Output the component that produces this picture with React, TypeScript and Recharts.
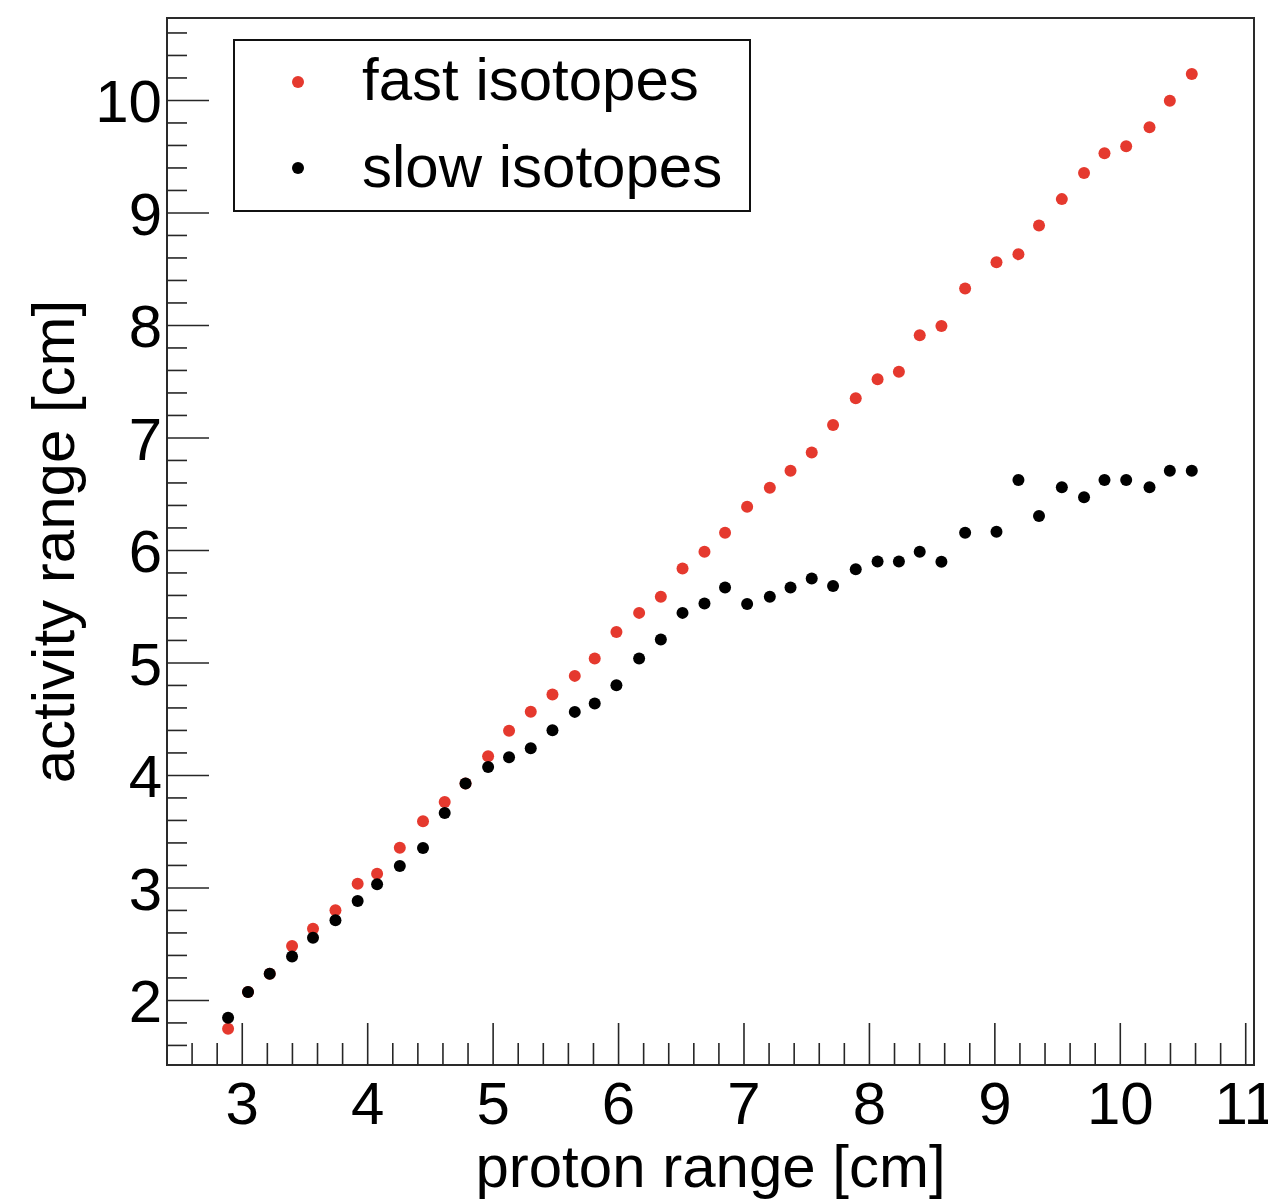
import React from "react";
import { ScatterChart, Scatter, XAxis, YAxis, ReferenceArea, Legend } from "recharts";

// proton range [cm] of each measurement (shared by both series)
const protonRange = [
  2.887, 3.046, 3.219, 3.397, 3.564, 3.743, 3.92, 4.075, 4.256, 4.441, 4.614, 4.78,
  4.96, 5.127, 5.3, 5.473, 5.651, 5.81, 5.983, 6.164, 6.337, 6.51, 6.685, 6.849,
  7.025, 7.206, 7.371, 7.54, 7.71, 7.891, 8.065, 8.235, 8.401, 8.574, 8.763, 9.013,
  9.188, 9.352, 9.534, 9.711, 9.874, 10.047, 10.233, 10.395, 10.57,
];

// activity range [cm], fast isotopes (red)
const fastIsotopes = [
  1.748, 2.074, 2.238, 2.483, 2.638, 2.801, 3.038, 3.127, 3.358, 3.592, 3.764, 3.928,
  4.171, 4.397, 4.566, 4.72, 4.885, 5.04, 5.276, 5.445, 5.588, 5.84, 5.988, 6.157,
  6.388, 6.557, 6.709, 6.871, 7.115, 7.353, 7.522, 7.589, 7.913, 7.996, 8.329, 8.561,
  8.634, 8.888, 9.123, 9.355, 9.53, 9.594, 9.762, 9.997, 10.235,
];

// activity range [cm], slow isotopes (black)
const slowIsotopes = [
  1.846, 2.074, 2.238, 2.391, 2.558, 2.712, 2.883, 3.032, 3.195, 3.355, 3.666, 3.928,
  4.075, 4.162, 4.242, 4.402, 4.565, 4.639, 4.802, 5.04, 5.209, 5.445, 5.529, 5.671,
  5.523, 5.588, 5.671, 5.751, 5.683, 5.832, 5.901, 5.901, 5.988, 5.899, 6.157, 6.166,
  6.626, 6.306, 6.561, 6.472, 6.626, 6.626, 6.561, 6.709, 6.709,
];

const seriesNames = ["fast isotopes", "slow isotopes"];
const seriesColors = ["#e5392e", "#000000"];

const xDomain = [2.4, 11.066];
const yDomain = [1.426, 10.733];

// tick positions (major = integer, labelled; others minor)
const xTicks = [
  2.6, 2.8, 3, 3.2, 3.4, 3.6, 3.8, 4, 4.2, 4.4, 4.6, 4.8, 5, 5.2, 5.4, 5.6, 5.8, 6,
  6.2, 6.4, 6.6, 6.8, 7, 7.2, 7.4, 7.6, 7.8, 8, 8.2, 8.4, 8.6, 8.8, 9, 9.2, 9.4, 9.6,
  9.8, 10, 10.2, 10.4, 10.6, 10.8, 11,
];
const xTickLabels = ["3", "4", "5", "6", "7", "8", "9", "10", "11"];
const yTicks = [
  1.6, 1.8, 2, 2.2, 2.4, 2.6, 2.8, 3, 3.2, 3.4, 3.6, 3.8, 4, 4.2, 4.4, 4.6, 4.8, 5,
  5.2, 5.4, 5.6, 5.8, 6, 6.2, 6.4, 6.6, 6.8, 7, 7.2, 7.4, 7.6, 7.8, 8, 8.2, 8.4, 8.6,
  8.8, 9, 9.2, 9.4, 9.6, 9.8, 10, 10.2, 10.4, 10.6,
];
const yTickLabels = ["2", "3", "4", "5", "6", "7", "8", "9", "10"];

const xTitle = "proton range [cm]";
const yTitle = "activity range [cm]";

const FONT = "'Liberation Sans', Arial, Helvetica, sans-serif";
const FS = 60;
const TICK_COLOR = "#262626";

const fastData = protonRange.map((x, i) => ({ x, y: fastIsotopes[i] }));
const slowData = protonRange.map((x, i) => ({ x, y: slowIsotopes[i] }));

const isMajor = (v: number) => Math.abs(v - Math.round(v)) < 1e-6;

const labelFor = (v: number, labels: string[]) => {
  const s = String(Math.round(v));
  return labels.includes(s) ? s : "";
};

const XTick = (props: any) => {
  const { x, y, payload } = props;
  const v = payload.value as number;
  const major = isMajor(v);
  return (
    <g>
      <line x1={x} x2={x} y1={y} y2={y - (major ? 42 : 22)} stroke={TICK_COLOR} strokeWidth={1.6} />
      {major && (
        <text x={x} y={y + 59} textAnchor="middle" fontSize={FS} fontFamily={FONT} fill="#000">
          {labelFor(v, xTickLabels)}
        </text>
      )}
    </g>
  );
};

const YTick = (props: any) => {
  const { x, y, payload } = props;
  const v = payload.value as number;
  const major = isMajor(v);
  return (
    <g>
      <line x1={x} x2={x + (major ? 42 : 20)} y1={y} y2={y} stroke={TICK_COLOR} strokeWidth={1.6} />
      {major && (
        <text x={x - 5} y={y + 22} textAnchor="end" fontSize={FS} fontFamily={FONT} fill="#000">
          {labelFor(v, yTickLabels)}
        </text>
      )}
    </g>
  );
};

const dot = (color: string) => (props: any) =>
  <circle cx={props.cx} cy={props.cy} r={6} fill={color} />;

const LegendBox = () => (
  <svg width={518} height={174} style={{ display: "block" }}>
    <rect x={1} y={1} width={516} height={171} fill="#fff" stroke="#111" strokeWidth={2} />
    <circle cx={65} cy={43} r={6} fill={seriesColors[0]} />
    <circle cx={65} cy={129} r={6} fill={seriesColors[1]} />
    <text x={129} y={61} fontSize={FS} fontFamily={FONT} fill="#000">{seriesNames[0]}</text>
    <text x={129} y={148} fontSize={FS} fontFamily={FONT} fill="#000">{seriesNames[1]}</text>
  </svg>
);

export default function App() {
  return (
    <ScatterChart width={1268} height={1195} margin={{ top: 10, right: 22, left: 9, bottom: 0 }}>
      <XAxis
        type="number"
        dataKey="x"
        domain={xDomain}
        allowDataOverflow
        ticks={xTicks}
        interval={0}
        tickSize={0}
        tickMargin={0}
        tickLine={false}
        axisLine={false}
        tick={<XTick />}
        height={138}
        label={(p: any) => {
          const vb = p.viewBox || { x: 159, y: 1057, width: 1087, height: 138 };
          return (
            <text x={vb.x + vb.width / 2} y={vb.y + 122} textAnchor="middle" fontSize={FS} fontFamily={FONT} fill="#000">
              {xTitle}
            </text>
          );
        }}
      />
      <YAxis
        type="number"
        dataKey="y"
        domain={yDomain}
        allowDataOverflow
        ticks={yTicks}
        interval={0}
        tickSize={0}
        tickMargin={0}
        tickLine={false}
        axisLine={false}
        tick={<YTick />}
        width={150}
        label={(p: any) => {
          const vb = p.viewBox || { x: 9, y: 10, width: 150, height: 1047 };
          const cx = vb.x + 57;
          const cy = vb.y + vb.height / 2;
          return (
            <text x={cx} y={cy} transform={`rotate(-90, ${cx}, ${cy})`} textAnchor="middle" fontSize={FS} fontFamily={FONT} fill="#000">
              {yTitle}
            </text>
          );
        }}
      />
      <ReferenceArea
        x1={xDomain[0]}
        x2={xDomain[1]}
        y1={yDomain[0]}
        y2={yDomain[1]}
        fill="none"
        fillOpacity={0}
        stroke="#2a2a2a"
        strokeWidth={2}
        ifOverflow="visible"
      />
      <Legend
        layout="vertical"
        align="center"
        verticalAlign="middle"
        content={() => <LegendBox />}
        wrapperStyle={{ position: "absolute", left: 225, top: 31, width: 518, height: 174 }}
      />
      <Scatter name={seriesNames[0]} data={fastData} fill={seriesColors[0]} shape={dot(seriesColors[0])} isAnimationActive={false} />
      <Scatter name={seriesNames[1]} data={slowData} fill={seriesColors[1]} shape={dot(seriesColors[1])} isAnimationActive={false} />
    </ScatterChart>
  );
}
